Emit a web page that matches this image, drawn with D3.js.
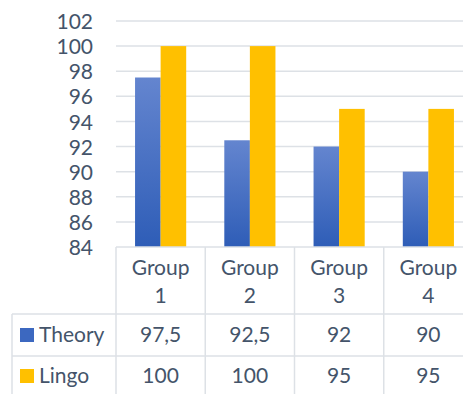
<!DOCTYPE html>
<html>
<head>
<meta charset="utf-8">
<script src="https://cdn.jsdelivr.net/npm/d3@7"></script>
<style>
  body { margin: 0; background: #fff; }
  svg text { font-family: Lato, "Open Sans", sans-serif; fill: #44546a; }
</style>
</head>
<body>
<div id="wrapper"></div>
<script>
const groups = ["Group 1", "Group 2", "Group 3", "Group 4"];
const seriesNames = ["Theory", "Lingo"];
const theory = [97.5, 92.5, 92, 90];
const lingo = [100, 100, 95, 95];
const theoryLabels = ["97,5", "92,5", "92", "90"];
const lingoLabels = ["100", "100", "95", "95"];
const yTicks = [84, 86, 88, 90, 92, 94, 96, 98, 100, 102];

let dimensions = {
  width: 463,
  height: 394,
  plotLeft: 116,
  plotRight: 473,
  plotTop: 21,
  plotBottom: 247
}

const fontSize = 21;
const gridColor = "#dde1e6";

let wrapper = d3.select("#wrapper").append("svg")
  .attr("width", dimensions.width)
  .attr("height", dimensions.height);

let defs = wrapper.append("defs");
let grad = defs.append("linearGradient")
  .attr("id", "theoryGrad")
  .attr("x1", 0).attr("y1", 0).attr("x2", 0).attr("y2", 1);
grad.append("stop").attr("offset", "0%").attr("stop-color", "#6485cf");
grad.append("stop").attr("offset", "100%").attr("stop-color", "#2e5db7");

const colors = { Theory: "url(#theoryGrad)", Lingo: "#ffc000" };
const swatch = { Theory: "#3c68c0", Lingo: "#ffc000" };

let xScale = d3.scaleBand()
  .domain(groups)
  .range([dimensions.plotLeft, dimensions.plotRight]);

let xSub = d3.scaleBand()
  .domain(seriesNames)
  .range([0, xScale.bandwidth()])
  .paddingOuter(0.745);

let yScale = d3.scaleLinear()
  .domain([84, 102])
  .range([dimensions.plotBottom, dimensions.plotTop]);

// gridlines
wrapper.append("g").selectAll("line")
  .data(yTicks.filter(d => d > 84))
  .enter().append("line")
  .attr("x1", dimensions.plotLeft)
  .attr("x2", dimensions.plotRight)
  .attr("y1", d => yScale(d))
  .attr("y2", d => yScale(d))
  .attr("stroke", gridColor)
  .attr("stroke-width", 1.5);

// y axis labels
let yAxisGen = d3.axisLeft(yScale).tickValues(yTicks).tickSize(0).tickPadding(0);
const axisY = wrapper.append("g")
  .attr("transform", "translate(93,0)")
  .call(yAxisGen);
axisY.select(".domain").remove();
axisY.selectAll("text")
  .attr("font-size", fontSize)
  .attr("font-family", "Lato, 'Open Sans', sans-serif")
  .attr("fill", "#44546a")
  .attr("dy", "0.36em");

// bars
const rows = groups.map((g, i) => ({ group: g, Theory: theory[i], Lingo: lingo[i] }));
let barGroups = wrapper.append("g").selectAll("g")
  .data(rows)
  .enter().append("g")
  .attr("transform", d => `translate(${xScale(d.group)},0)`);

barGroups.selectAll("rect")
  .data(d => seriesNames.map(s => ({ key: s, value: d[s] })))
  .enter().append("rect")
  .attr("x", d => xSub(d.key))
  .attr("width", xSub.bandwidth())
  .attr("y", d => yScale(d.value))
  .attr("height", d => yScale(84) - yScale(d.value))
  .attr("fill", d => colors[d.key]);

// data table
const table = wrapper.append("g");
const rowY = [dimensions.plotBottom, 314, 356, 398];
const colX = [12].concat(groups.map(g => xScale(g)), [dimensions.plotRight]);

table.append("line")
  .attr("x1", dimensions.plotLeft).attr("x2", dimensions.plotRight)
  .attr("y1", rowY[0]).attr("y2", rowY[0]);
[rowY[1], rowY[2], rowY[3]].forEach(y => {
  table.append("line")
    .attr("x1", 12).attr("x2", dimensions.plotRight)
    .attr("y1", y).attr("y2", y);
});
table.append("line")
  .attr("x1", 12).attr("x2", 12)
  .attr("y1", rowY[1]).attr("y2", rowY[3]);
colX.slice(1).forEach(x => {
  table.append("line")
    .attr("x1", x).attr("x2", x)
    .attr("y1", rowY[0]).attr("y2", rowY[3]);
});
table.selectAll("line")
  .attr("stroke", gridColor)
  .attr("stroke-width", 1.5);

// header labels
groups.forEach(g => {
  const cx = xScale(g) + xScale.bandwidth() / 2;
  const parts = g.split(" ");
  table.append("text")
    .attr("x", cx).attr("y", 275)
    .attr("text-anchor", "middle")
    .attr("font-size", fontSize)
    .text(parts[0]);
  table.append("text")
    .attr("x", cx).attr("y", 303)
    .attr("text-anchor", "middle")
    .attr("font-size", fontSize)
    .text(parts[1]);
});

// series rows
const rowData = [
  { name: "Theory", labels: theoryLabels, base: 342 },
  { name: "Lingo", labels: lingoLabels, base: 383 }
];
rowData.forEach(r => {
  table.append("rect")
    .attr("x", 20).attr("y", r.base - 14)
    .attr("width", 14).attr("height", 14)
    .attr("fill", swatch[r.name]);
  table.append("text")
    .attr("x", 39).attr("y", r.base)
    .attr("font-size", fontSize)
    .text(r.name);
  r.labels.forEach((lab, i) => {
    table.append("text")
      .attr("x", xScale(groups[i]) + xScale.bandwidth() / 2)
      .attr("y", r.base)
      .attr("text-anchor", "middle")
      .attr("font-size", fontSize)
      .text(lab);
  });
});
</script>
</body>
</html>
